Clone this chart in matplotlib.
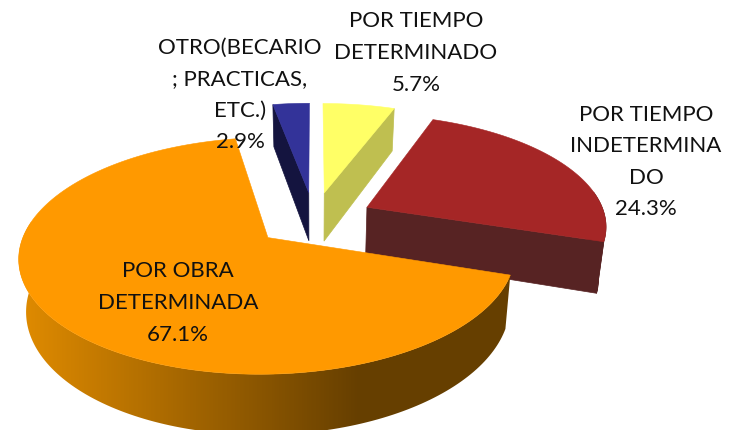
import numpy as np
import matplotlib
matplotlib.use("Agg")
import matplotlib.pyplot as plt
from matplotlib.colors import LinearSegmentedColormap
from matplotlib.patches import Polygon

plt.rcParams['font.family'] = ['Lato', 'DejaVu Sans']

# going clockwise from 12 o'clock
categories = ["POR TIEMPO\nDETERMINADO", "POR TIEMPO\nINDETERMINA\nDO",
              "POR OBRA\nDETERMINADA", "OTRO(BECARIO\n; PRACTICAS,\nETC.)"]
percents = [5.7, 24.3, 67.1, 2.9]
top_colors = ["#FFFF66", "#A52626", "#FF9900", "#333399"]
wall_colors = ["#BFBF50", "#572323", "#663F00", "#14143F"]
label_pos = [(416, 53), (646, 162), (178, 303), (240, 95)]
BIG = 2

# fake 3d camera, in pixels
cx, cy = 314, 220
rx, ry = 239, 110
persp = 0.15
depth = 50
shrink = 0.975
explode = 0.25


def project(u, v, z=0.0):
    w = 1 + persp * v
    x = cx + rx * u / w * (1 - (1 - shrink) * z)
    y = cy - ry * v / w + depth * z / w
    return np.column_stack([x, y])


def slice_points(a0, a1, n=200):
    t = np.radians(np.linspace(a0, a1, n))
    mid = np.radians((a0 + a1) / 2)
    ou, ov = explode * np.sin(mid), explode * np.cos(mid)
    return ou, ov, t, ou + np.sin(t), ov + np.cos(t)


fig = plt.figure(figsize=(7.33, 4.31), dpi=100)
ax = fig.add_axes([0, 0, 1, 1])
ax.axis("off")

edges = np.concatenate([[0], np.cumsum(percents)]) / np.sum(percents) * 360
spans = list(zip(edges[:-1], edges[1:]))
shade = LinearSegmentedColormap.from_list("shade", ["#DE8A00", "#663F00"])

# back slices first, the big one goes over the others
for i in [3, 0, 1, 2]:
    a0, a1 = spans[i]
    ou, ov, t, us, vs = slice_points(a0, a1)
    apex_u, apex_v = np.array([ou]), np.array([ov])

    # cut faces, only those turned towards the viewer
    faces = []
    if np.sin(np.radians(a0)) < -1e-6:
        faces.append((us[0], vs[0]))
    if np.sin(np.radians(a1)) > 1e-6:
        faces.append((us[-1], vs[-1]))
    for u_end, v_end in faces:
        end_u, end_v = np.array([u_end]), np.array([v_end])
        face = np.vstack([project(apex_u, apex_v), project(end_u, end_v),
                          project(end_u, end_v, 1), project(apex_u, apex_v, 1)])
        ax.add_patch(Polygon(face, closed=True, fc=wall_colors[i], ec=wall_colors[i], lw=0.5))

    # outer wall, same idea
    front = np.cos(t) < 0.15
    if front.any():
        wall = np.vstack([project(us[front], vs[front]), project(us[front], vs[front], 1)[::-1]])
        if i == BIG:
            # light on the left, flat dark from about x=360 on
            ramp = np.clip((np.arange(733) - 25) / 335, 0, 1).reshape(1, -1)
            im = ax.imshow(ramp, cmap=shade, aspect="auto", extent=(0, 733, 431, 0), zorder=1)
            clip = Polygon(wall, closed=True, fc="none", ec="none")
            ax.add_patch(clip)
            im.set_clip_path(clip)
        else:
            ax.add_patch(Polygon(wall, closed=True, fc=wall_colors[i], ec=wall_colors[i], lw=0.4))

    surface = np.vstack([project(apex_u, apex_v), project(us, vs)])
    ax.add_patch(Polygon(surface, closed=True, fc=top_colors[i], ec=top_colors[i], lw=0.4, zorder=2))

ax.set_xlim(0, 733)
ax.set_ylim(431, 0)

for name, pct, (tx, ty) in zip(categories, percents, label_pos):
    ax.text(tx, ty, f"{name}\n{pct}%", ha="center", va="center", fontsize=16,
            color="#111111", linespacing=1.72, zorder=5)

fig.savefig("out.png", dpi=100)
